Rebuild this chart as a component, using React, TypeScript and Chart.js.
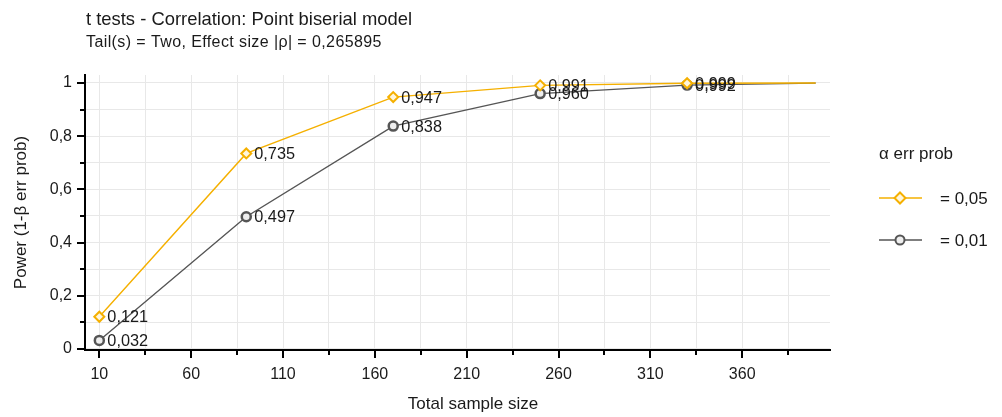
import React, { useEffect, useRef } from 'react';
import { Chart, registerables } from 'chart.js';

Chart.register(...registerables);

// ---- data ----
const sampleSizes = [10, 90, 170, 250, 330, 400];
const powerAlpha005 = [0.121, 0.735, 0.947, 0.991, 0.999, 1.0];
const powerAlpha001 = [0.032, 0.497, 0.838, 0.96, 0.992, 0.9995];
const labelledPoints = 5;
const seriesNames = ['= 0,05', '= 0,01'];
const xTickValues = [10, 35, 60, 85, 110, 135, 160, 185, 210, 235, 260, 285, 310, 335, 360, 385];
const xLabelledTicks = [10, 60, 110, 160, 210, 260, 310, 360];
const yTickValues = [0, 0.1, 0.2, 0.3, 0.4, 0.5, 0.6, 0.7, 0.8, 0.9, 1.0];
const yLabelledTicks = [0, 0.2, 0.4, 0.6, 0.8, 1.0];
const titleText = 't tests - Correlation: Point biserial model';
const subtitleText = 'Tail(s) = Two, Effect size |\u03c1| = 0,265895';
const xTitle = 'Total sample size';
const yTitle = 'Power (1-\u03b2 err prob)';
const legendTitle = '\u03b1 err prob';

const ORANGE = '#f5b000';
const GRAY = '#555555';
const FONT = '"Liberation Sans", Arial, sans-serif';

const fmtTick = (v: number) => {
  const r = Math.round(v * 1000) / 1000;
  if (r === 0) return '0';
  if (r === 1) return '1';
  return String(r).replace('.', ',');
};
const fmtValue = (v: number) => v.toFixed(3).replace('.', ',');
const isIn = (arr: number[], v: number) => arr.some((a) => Math.abs(a - v) < 1e-6);

const decorPlugin = {
  id: 'decor',
  afterDatasetsDraw(chart: any) {
    const ctx = chart.ctx;
    ctx.save();
    ctx.font = `16.3px ${FONT}`;
    ctx.fillStyle = '#1a1a1a';
    ctx.textBaseline = 'middle';
    ctx.textAlign = 'left';
    chart.data.datasets.forEach((ds: any, di: number) => {
      const meta = chart.getDatasetMeta(di);
      meta.data.forEach((pt: any, i: number) => {
        if (i >= labelledPoints) return;
        ctx.fillText(fmtValue(ds.data[i].y), pt.x + 8, pt.y + 1);
      });
    });
    ctx.restore();
  },
  afterDraw(chart: any) {
    const ctx = chart.ctx;
    const ca = chart.chartArea;
    const xs = chart.scales.x;
    const ys = chart.scales.y;
    ctx.save();
    // ticks
    ctx.strokeStyle = '#000';
    ctx.lineWidth = 2;
    xs.ticks.forEach((t: any) => {
      const px = Math.round(xs.getPixelForValue(t.value));
      const len = isIn(xLabelledTicks, t.value) ? 8 : 5;
      ctx.beginPath();
      ctx.moveTo(px, ca.bottom);
      ctx.lineTo(px, ca.bottom + len);
      ctx.stroke();
    });
    ys.ticks.forEach((t: any) => {
      const py = Math.round(ys.getPixelForValue(t.value));
      const len = isIn(yLabelledTicks, t.value) ? 8 : 5;
      ctx.beginPath();
      ctx.moveTo(ca.left, py);
      ctx.lineTo(ca.left - len, py);
      ctx.stroke();
    });
    // titles
    ctx.fillStyle = '#1a1a1a';
    ctx.textBaseline = 'middle';
    ctx.textAlign = 'left';
    ctx.font = `18.4px ${FONT}`;
    ctx.fillText(titleText, ca.left + 1, 20);
    ctx.font = `16px ${FONT}`;
    (ctx as any).letterSpacing = '0.4px';
    ctx.fillText(subtitleText, ca.left + 1, 43);
    (ctx as any).letterSpacing = '0px';
    // axis titles
    ctx.font = `17px ${FONT}`;
    ctx.textAlign = 'center';
    ctx.fillText(xTitle, 473, 404);
    ctx.save();
    ctx.translate(21, (ca.top + ca.bottom) / 2);
    ctx.rotate(-Math.PI / 2);
    ctx.fillText(yTitle, 0, 0);
    ctx.restore();
    // legend
    ctx.textAlign = 'left';
    ctx.fillText(legendTitle, 879, 154);
    const rows = [
      { y: 198, color: ORANGE, style: 'diamond' },
      { y: 240, color: GRAY, style: 'circle' },
    ];
    rows.forEach((r, i) => {
      ctx.strokeStyle = r.color;
      ctx.lineWidth = 1.5;
      ctx.beginPath();
      ctx.moveTo(879, r.y);
      ctx.lineTo(922, r.y);
      ctx.stroke();
      ctx.lineWidth = 2;
      ctx.fillStyle = r.style === 'diamond' ? '#fff6dc' : '#eeeeee';
      ctx.beginPath();
      if (r.style === 'diamond') {
        const s = 5.5;
        ctx.moveTo(900, r.y - s);
        ctx.lineTo(900 + s, r.y);
        ctx.lineTo(900, r.y + s);
        ctx.lineTo(900 - s, r.y);
        ctx.closePath();
      } else {
        ctx.arc(900, r.y, 4.5, 0, Math.PI * 2);
      }
      ctx.fill();
      ctx.stroke();
      ctx.fillStyle = '#1a1a1a';
      ctx.fillText(seriesNames[i], 940, r.y + 1);
    });
    ctx.restore();
  },
};

export default function App() {
  const ref = useRef<HTMLCanvasElement | null>(null);
  useEffect(() => {
    document.body.style.margin = '0';
    if (!ref.current) return;
    Chart.defaults.font.family = FONT;
    const chart = new Chart(ref.current, {
      type: 'line',
      data: {
        datasets: [
          {
            label: seriesNames[0],
            data: sampleSizes.map((x, i) => ({ x, y: powerAlpha005[i] })),
            borderColor: ORANGE,
            borderWidth: 1.4,
            pointStyle: 'rectRot',
            pointRadius: sampleSizes.map((_, i) => (i < labelledPoints ? 5 : 0)),
            pointBorderWidth: 2,
            pointBorderColor: ORANGE,
            pointBackgroundColor: '#fff6dc',
            tension: 0,
          },
          {
            label: seriesNames[1],
            data: sampleSizes.map((x, i) => ({ x, y: powerAlpha001[i] })),
            borderColor: GRAY,
            borderWidth: 1.4,
            pointStyle: 'circle',
            pointRadius: sampleSizes.map((_, i) => (i < labelledPoints ? 4.5 : 0)),
            pointBorderWidth: 2.5,
            pointBorderColor: GRAY,
            pointBackgroundColor: '#eeeeee',
            tension: 0,
          },
        ],
      },
      options: {
        responsive: false,
        animation: false,
        devicePixelRatio: 1,
        events: [],
        layout: { padding: { top: 75, right: 172, left: 0, bottom: 0 } },
        plugins: {
          legend: { display: false },
          tooltip: { enabled: false },
          title: { display: false },
        },
        scales: {
          x: {
            type: 'linear',
            min: 2.2,
            max: 407.8,
            afterBuildTicks: (s: any) => {
              s.ticks = xTickValues.map((v) => ({ value: v }));
            },
            afterFit: (s: any) => {
              s.height = 67;
            },
            ticks: {
              autoSkip: false,
              maxRotation: 0,
              padding: 7,
              color: '#1a1a1a',
              font: { size: 16 },
              callback: (v: any) => (isIn(xLabelledTicks, Number(v)) ? String(v) : ''),
            },
            grid: { color: '#e8e8e8', lineWidth: 1, tickLength: 8, tickColor: 'rgba(0,0,0,0)' },
            border: { display: true, color: '#000', width: 2 },
          },
          y: {
            type: 'linear',
            min: -0.004,
            max: 1.03,
            afterBuildTicks: (s: any) => {
              s.ticks = yTickValues.map((v) => ({ value: v }));
            },
            afterFit: (s: any) => {
              s.width = 85;
            },
            ticks: {
              autoSkip: false,
              padding: 5,
              color: '#1a1a1a',
              font: { size: 16 },
              callback: (v: any) => (isIn(yLabelledTicks, Number(v)) ? fmtTick(Number(v)) : ''),
            },
            grid: { color: '#e8e8e8', lineWidth: 1, tickLength: 8, tickColor: 'rgba(0,0,0,0)' },
            border: { display: true, color: '#000', width: 2 },
          },
        },
      },
      plugins: [decorPlugin],
    } as any);
    return () => chart.destroy();
  }, []);
  return (
    <div style={{ width: 1002, height: 417, background: '#fff' }}>
      <canvas ref={ref} width={1002} height={417} style={{ display: 'block' }} />
    </div>
  );
}
